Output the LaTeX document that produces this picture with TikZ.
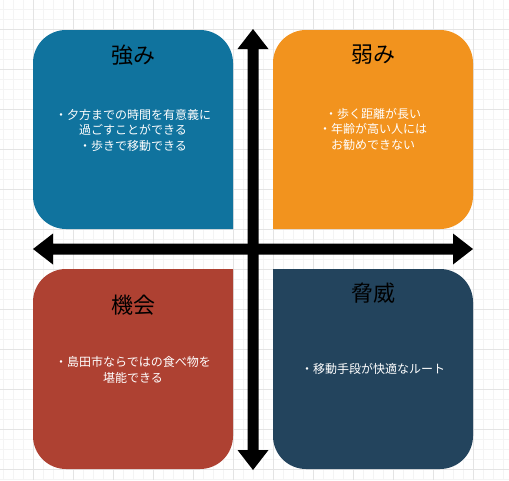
\documentclass[tikz,border=0pt]{standalone}
\usepackage{fontspec}
\newfontfamily\jp{Noto Sans CJK JP}
\definecolor{sblue}{HTML}{10739E}
\definecolor{sorange}{HTML}{F2931E}
\definecolor{sred}{HTML}{AE4132}
\definecolor{snavy}{HTML}{23445D}
\definecolor{gridminor}{HTML}{F4F4F4}
\definecolor{gridmajor}{HTML}{E4E4E4}
\tikzset{
  ttl/.style={font=\jp\fontsize{22}{26}\selectfont, text=black, inner sep=0pt},
  body/.style={font=\jp\fontsize{12}{15.5}\selectfont, text=white, align=center, inner sep=0pt},
  bigarrow/.style={fill=black},
}
\begin{document}
\begin{tikzpicture}[x=1pt,y=-1pt]
\fill[white] (0,0) rectangle (509,480);
\useasboundingbox (0,0) rectangle (509,480);
% grid
\foreach \gx in {3,13,...,503} \draw[gridminor, line width=0.8pt] (\gx,0) -- (\gx,480);
\foreach \gy in {9,19,...,479} \draw[gridminor, line width=0.8pt] (0,\gy) -- (509,\gy);
\foreach \gx in {33,73,...,473} \draw[gridmajor, line width=1pt] (\gx,0) -- (\gx,480);
\foreach \gy in {29,69,...,469} \draw[gridmajor, line width=1pt] (0,\gy) -- (509,\gy);
% boxes (inner corner square)
\fill[sblue] (233,229) [rounded corners=33] -- (33,229) -- (33,30) -- (233,30) [sharp corners] -- (233,229) -- cycle;
\fill[sorange] (273,229) [rounded corners=33] -- (473,229) -- (473,30) -- (273,30) [sharp corners] -- (273,229) -- cycle;
\fill[sred] (233,269) [rounded corners=33] -- (233,469) -- (33,469) -- (33,269) [sharp corners] -- (233,269) -- cycle;
\fill[snavy] (273,269) [rounded corners=33] -- (473,269) -- (473,469) -- (273,469) [sharp corners] -- (273,269) -- cycle;
% axes arrows
\fill[bigarrow] (253,29) -- (268.5,49) -- (258.5,49) -- (258.5,450) -- (268.5,450) -- (253,470) -- (237.5,450) -- (247.5,450) -- (247.5,49) -- (237.5,49) -- cycle;
\fill[bigarrow] (33,249) -- (53,233.5) -- (53,243.5) -- (453,243.5) -- (453,233.5) -- (473,249) -- (453,264.5) -- (453,254.5) -- (53,254.5) -- (53,264.5) -- cycle;
% texts
\node[ttl] (t1) at (133,55) {強み};
\node[body] (b1) at (133,130) {・夕方までの時間を有意義に\\過ごすことができる\\・歩きで移動できる};
\node[ttl] (t2) at (373,55) {弱み};
\node[body] (b2) at (373,129) {・歩く距離が長い\\・年齢が高い人には\\お勧めできない};
\node[ttl] (t3) at (133,305) {機会};
\node[body] (b3) at (133,370) {・島田市ならではの食べ物を\\堪能できる};
\node[ttl] (t4) at (373,293) {脅威};
\node[body] (b4) at (373,369) {・移動手段が快適なルート};
\end{tikzpicture}
\end{document}
